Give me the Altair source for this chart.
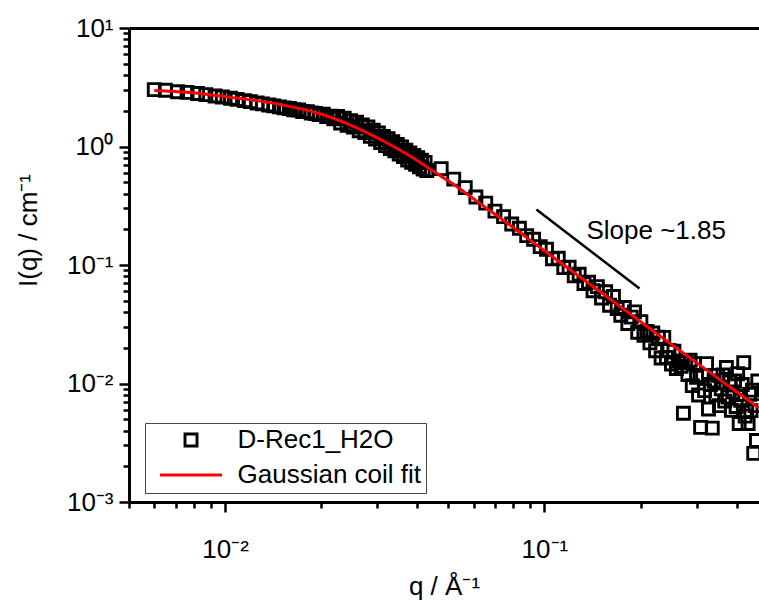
import altair as alt
import pandas as pd

FONT = "Liberation Sans"

series_names = ["D-Rec1_H2O", "Gaussian coil fit"]
series_colors = ["#000000", "#ff0000"]
legend_shapes = ["square", "stroke"]
legend_sizes = [144, 3844]

# low-q detector configuration
low_q = [0.0060, 0.0065, 0.0071, 0.0076, 0.0082, 0.0087, 0.0093, 0.0098, 0.0104, 0.0109,
         0.0115, 0.0120, 0.0126, 0.0131, 0.0137, 0.0142, 0.0148, 0.0153, 0.0159, 0.0164,
         0.0170, 0.0175, 0.0181, 0.0186, 0.0192, 0.0197, 0.0203, 0.0208, 0.0214, 0.0219,
         0.0225, 0.0230, 0.0236, 0.0241, 0.0247, 0.0252, 0.0258, 0.0263, 0.0269, 0.0274,
         0.0280, 0.0285, 0.0291, 0.0296, 0.0302, 0.0307, 0.0313, 0.0318, 0.0324, 0.0329,
         0.0335, 0.0340, 0.0346, 0.0351, 0.0357, 0.0362, 0.0368, 0.0373, 0.0379, 0.0384,
         0.0390, 0.0395, 0.0401, 0.0406, 0.0412, 0.0417, 0.0423, 0.0428]
low_I = [3.02, 2.98, 2.90, 2.86, 2.80, 2.74, 2.67, 2.62, 2.55, 2.50,
         2.44, 2.39, 2.33, 2.29, 2.24, 2.20, 2.16, 2.12, 2.09, 2.04,
         2.03, 1.97, 1.97, 1.92, 1.90, 1.86, 1.87, 1.79, 1.80, 1.71,
         1.79, 1.58, 1.73, 1.51, 1.65, 1.46, 1.60, 1.36, 1.52, 1.31,
         1.46, 1.22, 1.37, 1.155, 1.30, 1.08, 1.215, 1.017, 1.164, 0.962,
         1.10, 0.918, 1.04, 0.865, 0.99, 0.823, 0.93, 0.77, 0.883, 0.736,
         0.839, 0.706, 0.803, 0.675, 0.768, 0.644, 0.733, 0.627]

# high-q detector configuration
high_q = [0.0475, 0.0520, 0.0565, 0.0610, 0.0655, 0.0700, 0.0745, 0.0790, 0.0835, 0.0880,
          0.0925, 0.0970, 0.1015, 0.1060, 0.1105, 0.1150, 0.1195, 0.1240, 0.1285, 0.1330,
          0.1375, 0.1420, 0.1465, 0.1510, 0.1555, 0.1600, 0.1645, 0.1690, 0.1735, 0.1780,
          0.1825, 0.1870, 0.1915, 0.1960, 0.2005, 0.2050, 0.2095, 0.2140, 0.2185, 0.2230,
          0.2275, 0.2320, 0.2365, 0.2410, 0.2455, 0.2500, 0.2545, 0.2590, 0.2635, 0.2680,
          0.2725, 0.2770, 0.2815, 0.2860, 0.2905, 0.2950, 0.2995, 0.3040, 0.3085, 0.3130,
          0.3175, 0.3220, 0.3265, 0.3310, 0.3355, 0.3400, 0.3445, 0.3490, 0.3535, 0.3580,
          0.3625, 0.3670, 0.3715, 0.3760, 0.3805, 0.3850, 0.3895, 0.3940, 0.3985, 0.4030,
          0.4075, 0.4120, 0.4165, 0.4210, 0.4255, 0.4300, 0.4345, 0.4390, 0.4435, 0.4480,
          0.4525, 0.4570, 0.4615, 0.4660]
high_I = [0.650, 0.530, 0.450, 0.375, 0.333, 0.285, 0.256, 0.222, 0.204, 0.177,
          0.165, 0.143, 0.136, 0.113, 0.114, 0.0951, 0.0956, 0.0810, 0.0835, 0.0698,
          0.0717, 0.0606, 0.0657, 0.0526, 0.0595, 0.0458, 0.0542, 0.0430, 0.0377, 0.0438,
          0.0321, 0.0363, 0.0402, 0.0271, 0.0333, 0.0255, 0.0275, 0.0220, 0.0267, 0.0189,
          0.0246, 0.0164, 0.0245, 0.0166, 0.0190, 0.0146, 0.0187, 0.0134, 0.0155, 0.0140,
          0.00561, 0.0150, 0.0119, 0.0157, 0.0096, 0.0147, 0.0113, 0.0080, 0.00426, 0.0117,
          0.0087, 0.0147, 0.0061, 0.0098, 0.0042, 0.0105, 0.0080, 0.0117, 0.0065, 0.0090,
          0.0118, 0.0071, 0.01365, 0.0077, 0.0103, 0.00595, 0.0085, 0.0105, 0.0064, 0.0121,
          0.0046, 0.0072, 0.0098, 0.0150, 0.0053, 0.0059, 0.0046, 0.0081, 0.0059, 0.0088,
          0.00257, 0.0065, 0.0033, 0.0105]

# Gaussian coil fit curve
fit_q = [0.0060, 0.0077, 0.0103, 0.0133, 0.0171, 0.0197, 0.0245, 0.0311, 0.0377, 0.0446,
         0.0520, 0.0600, 0.0723, 0.100, 0.129, 0.172, 0.229, 0.306, 0.409, 0.470]
fit_I = [2.97, 2.86, 2.61, 2.38, 2.09, 1.90, 1.53, 1.124, 0.839, 0.627,
         0.477, 0.362, 0.252, 0.132, 0.0795, 0.0450, 0.0254, 0.01435, 0.00815, 0.0062]

# slope guide line and annotation
slope_q = [0.0944, 0.1985]
slope_I = [0.294, 0.0633]
note_q = [0.1354]
note_I = [0.167]
note_text = ["Slope ~1.85"]

x_domain = [0.005, 0.47]
y_domain = [0.001, 10]
x_tick_values = [0.005, 0.006, 0.007, 0.008, 0.009, 0.01, 0.02, 0.03, 0.04, 0.05,
                 0.06, 0.07, 0.08, 0.09, 0.1, 0.2, 0.3, 0.4]
y_tick_values = [0.001, 0.002, 0.003, 0.004, 0.005, 0.006, 0.007, 0.008, 0.009,
                 0.01, 0.02, 0.03, 0.04, 0.05, 0.06, 0.07, 0.08, 0.09,
                 0.1, 0.2, 0.3, 0.4, 0.5, 0.6, 0.7, 0.8, 0.9,
                 1, 2, 3, 4, 5, 6, 7, 8, 9, 10]

points_df = pd.DataFrame({"q": low_q + high_q, "I": low_I + high_I, "series": series_names[0]})
fit_df = pd.DataFrame({"q": fit_q, "I": fit_I, "series": series_names[1]})
slope_df = pd.DataFrame({"q": slope_q, "I": slope_I})
note_df = pd.DataFrame({"q": note_q, "I": note_I, "text": note_text})

E = "round(log(datum.value)/LN10)"
MAJ = f"abs(log(datum.value)/LN10 - {E}) < 0.000001"
label_expr = (f"{MAJ} ? ({E} == -3 ? '10⁻³' : {E} == -2 ? '10⁻²' : {E} == -1 ? '10⁻¹' : "
              f"{E} == 0 ? '10⁰' : '10¹') : ''")
tick_cond = {"condition": {"test": MAJ, "value": 10}, "value": 6}

x_scale = alt.Scale(type="log", domain=x_domain, nice=False)
y_scale = alt.Scale(type="log", domain=y_domain, nice=False)

common = dict(
    labelExpr=label_expr, labelOverlap=False, labelFlush=False,
    labelFont=FONT, labelFontSize=26, labelColor="black",
    tickSize=tick_cond, tickWidth=2.5, tickColor="black",
    domainColor="black", domainWidth=3, grid=False,
    titleFont=FONT, titleFontSize=26, titleFontWeight="normal", titleColor="black",
)

x_axis = alt.Axis(values=x_tick_values, labelPadding=24, title="q / Å⁻¹",
                  titleBaseline="alphabetic", titleY=92, **common)
x_axis_top = alt.Axis(orient="top", ticks=False, labels=False, domainColor="black",
                      domainWidth=3, grid=False, title=None)
y_axis = alt.Axis(values=y_tick_values, labelPadding=6, labelBaseline="middle",
                  title="I(q) / cm⁻¹", titleX=-101, titleY=202, titleBaseline="middle",
                  titleAlign="center", **common)

legend = alt.Legend(
    title=None, orient="none", legendX=16, legendY=395, direction="vertical",
    labelFont=FONT, labelFontSize=26, labelColor="black", labelOffset=14, labelLimit=0,
    symbolOffset=9, symbolStrokeWidth=2.9, symbolOpacity=1, clipHeight=25,
    rowPadding=8, padding=4.5, strokeColor="#444444", fillColor="white",
)

color_enc = alt.Color("series:N", scale=alt.Scale(domain=series_names, range=series_colors), legend=legend)
shape_enc = alt.Shape("series:N", scale=alt.Scale(domain=series_names, range=legend_shapes), legend=legend)
size_enc = alt.Size("series:N", scale=alt.Scale(domain=series_names, range=legend_sizes), legend=legend)

points = alt.Chart(points_df).mark_point(filled=False, opacity=1, strokeWidth=2.9).encode(
    x=alt.X("q:Q", scale=x_scale, axis=x_axis),
    y=alt.Y("I:Q", scale=y_scale, axis=y_axis),
    color=color_enc, shape=shape_enc, size=size_enc,
)

fit = alt.Chart(fit_df).mark_line(strokeWidth=3, interpolate="monotone").encode(
    x=alt.X("q:Q", scale=x_scale, axis=x_axis_top),
    y=alt.Y("I:Q", scale=y_scale, axis=y_axis),
    color=color_enc,
)

slope = alt.Chart(slope_df).mark_line(color="black", strokeWidth=2.5).encode(
    x=alt.X("q:Q", scale=x_scale, axis=None),
    y=alt.Y("I:Q", scale=y_scale, axis=y_axis),
)

note = alt.Chart(note_df).mark_text(align="left", baseline="alphabetic", font=FONT,
                                    fontSize=26, color="black").encode(
    x=alt.X("q:Q", scale=x_scale, axis=None),
    y=alt.Y("I:Q", scale=y_scale, axis=y_axis),
    text="text:N",
)

chart = alt.layer(points, fit, slope, note).resolve_axis(x="independent").properties(
    width=630, height=474,
    autosize=alt.AutoSizeParams(type="none"),
    padding={"left": 129, "top": 28, "right": 0, "bottom": 98},
    background="white",
).configure_view(stroke=None)

chart.save("out.html", embed_options={"renderer": "svg", "actions": False})
